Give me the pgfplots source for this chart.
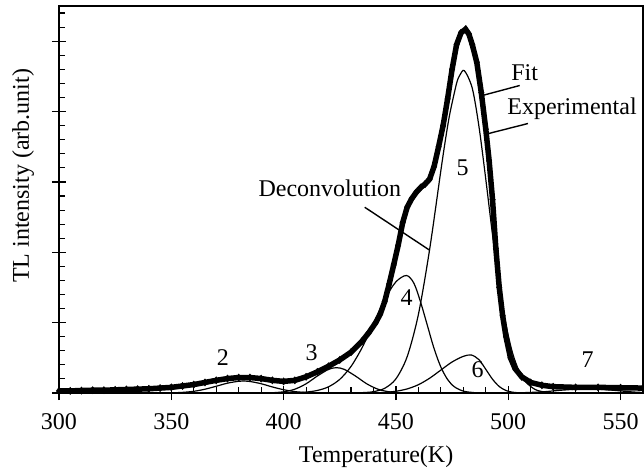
\documentclass[border=0pt]{standalone}
\usepackage{pgfplots}
\pgfplotsset{compat=1.18}
\usepackage{fontspec}
\setmainfont{Liberation Serif}
\begin{document}
\begin{tikzpicture}[font=\fontsize{24}{29}\selectfont]
\useasboundingbox (-59pt,-79pt) rectangle (585pt,393pt);
\begin{axis}[
  at={(0,0)}, anchor=south west,
  scale only axis, width=584pt, height=387pt,
  xmin=300, xmax=560, ymin=0, ymax=5.5,
  xtick={300,350,...,550},
  minor xtick={310,320,330,340,360,370,380,390,410,420,430,440,460,470,480,490,510,520,530,540},
  ytick={0,...,5}, yticklabels={},
  minor ytick={0.2,0.4,0.6,0.8,1.2,1.4,1.6,1.8,2.2,2.4,2.6,2.8,3.2,3.4,3.6,3.8,4.2,4.4,4.6,4.8,5.2,5.4},
  xtick pos=bottom, ytick pos=left,
  tick align=center, major tick length=14pt, minor tick length=6pt,
  every tick/.append style={black, line width=1.2pt},
  every minor tick/.append style={black, line width=1.1pt},
  minor y tick style={xshift=3pt},
  minor x tick style={yshift=3pt},
  axis line style={line width=1.8pt},
  tick label style={font=\fontsize{24}{29}\selectfont},
  /pgf/number format/assume math mode=true,
  xticklabel style={yshift=-10pt},
  xlabel={Temperature(K)}, ylabel={TL intensity (arb.unit)},
  xlabel style={at={(rel axis cs:0.543,-0.165)}, anchor=center},
  ylabel style={at={(rel axis cs:-0.0616,0.561)}, anchor=center},
  clip=false,
]
% deconvolution peaks
\addplot[black, line width=1.2pt, smooth] coordinates {(340,0) (350,0.003) (355,0.009) (360,0.024) (365,0.054) (370,0.096) (375,0.14) (380,0.167) (382,0.17) (385,0.164) (390,0.132) (395,0.086) (400,0.047) (405,0.02) (410,0.007) (415,0.002) (420,0)};
\addplot[black, line width=1.2pt, smooth] coordinates {(390,0) (395,0.004) (400,0.017) (405,0.054) (410,0.131) (415,0.241) (420,0.336) (423.5,0.36) (427,0.336) (432,0.241) (437,0.131) (442,0.054) (447,0.017) (452,0.004) (457,0)};
\addplot[black, line width=1.2pt, smooth] coordinates {(400,0) (405,0.004) (410,0.013) (415,0.036) (420,0.088) (425,0.194) (430,0.377) (435,0.648) (440,0.986) (445,1.33) (450,1.58) (454.7,1.67) (458,1.56) (461,1.29) (464,0.96) (467,0.63) (470,0.369) (473,0.192) (476,0.089) (480,0.027) (485,0.005) (490,0)};
\addplot[black, line width=1.2pt, smooth] coordinates {(425,0) (430,0.001) (435,0.005) (440,0.019) (445,0.067) (450,0.201) (455,0.516) (460,1.116) (465,2.04) (470,3.16) (472,3.59) (474,3.97) (477,4.40) (478.5,4.52) (480.5,4.58) (484,4.33) (487,3.78) (490,3.04) (493,2.25) (496,1.54) (499,0.97) (502,0.56) (505,0.30) (508,0.15) (512,0.05) (516,0.015) (520,0)};
\addplot[black, line width=1.2pt, smooth] coordinates {(440,0) (445,0.009) (450,0.025) (455,0.058) (460,0.118) (465,0.21) (470,0.326) (475,0.441) (480,0.521) (483.6,0.54) (487,0.473) (490,0.337) (493,0.196) (496,0.092) (499,0.035) (502,0.011) (505,0.003) (508,0)};
\addplot[black, line width=1.2pt, smooth] coordinates {(500,0) (505,0.003) (515,0.016) (525,0.043) (535,0.06) (545,0.043) (555,0.016) (560,0.0075)};
% fit
\addplot[black, line width=1.2pt, smooth] coordinates {(300,0.03) (320,0.04) (340,0.06) (350,0.08) (360,0.12) (370,0.18) (380,0.22) (385,0.22) (390,0.205) (400,0.165) (410,0.23) (420,0.38) (430,0.58) (440,0.95) (445,1.30) (450,1.96) (455,2.64) (460,2.88) (465,3.04) (470,3.65) (475,4.60) (481,5.17) (486,4.70) (490,3.75) (494.5,2.05) (499,0.80) (506,0.23) (515,0.11) (530,0.08) (560,0.07)};
% experimental
\addplot[black, line width=5.5pt, mark=diamond*, mark size=3.6pt, mark options={solid, line width=0.5pt}] coordinates {
(300,0.03) (305,0.03) (310,0.035) (315,0.04) (320,0.04) (325,0.045) (330,0.05) (335,0.055) (340,0.06) (345,0.07) (350,0.08) (355,0.10) (360,0.12) (365,0.15) (370,0.18) (375,0.205) (380,0.22) (385,0.22) (390,0.205) (395,0.18) (400,0.165) (405,0.18) (410,0.23) (415,0.30) (420,0.38) (425,0.47) (430,0.58) (435,0.74) (438,0.86) (441,1.00) (443,1.12) (445,1.30) (447,1.55) (449,1.82) (451,2.10) (453,2.42) (455,2.64) (457,2.76) (459,2.85) (461,2.92) (463,2.97) (465,3.04) (467,3.22) (469,3.50) (471,3.80) (473,4.18) (475,4.60) (477,4.95) (479,5.12) (481,5.17) (482.5,5.10) (484,4.95) (486,4.70) (488,4.27) (490,3.75) (491.5,3.30) (493,2.75) (494.5,2.05) (496,1.50) (497.5,1.10) (499,0.80) (501,0.50) (503,0.35) (506,0.23) (510,0.15) (515,0.11) (520,0.09) (530,0.08) (540,0.08) (550,0.075) (560,0.07)};
% annotations
\draw[black, line width=1.4pt] (axis cs:436.1,2.64) -- (axis cs:465,2.03);
\draw[black, line width=1.4pt] (axis cs:505.1,4.37) -- (axis cs:488.7,4.23);
\draw[black, line width=1.4pt] (axis cs:508.8,3.83) -- (axis cs:490.3,3.68);
\node at (axis cs:420.6,2.91) {Deconvolution};
\node at (axis cs:507.3,4.55) {Fit};
\node at (axis cs:528.4,4.04) {Experimental};
\node at (axis cs:373,0.51) {2};
\node at (axis cs:412.5,0.57) {3};
\node at (axis cs:454.8,1.36) {4};
\node at (axis cs:479.7,3.2) {5};
\node at (axis cs:486.4,0.33) {6};
\node at (axis cs:535.3,0.47) {7};
\end{axis}
\end{tikzpicture}
\end{document}
